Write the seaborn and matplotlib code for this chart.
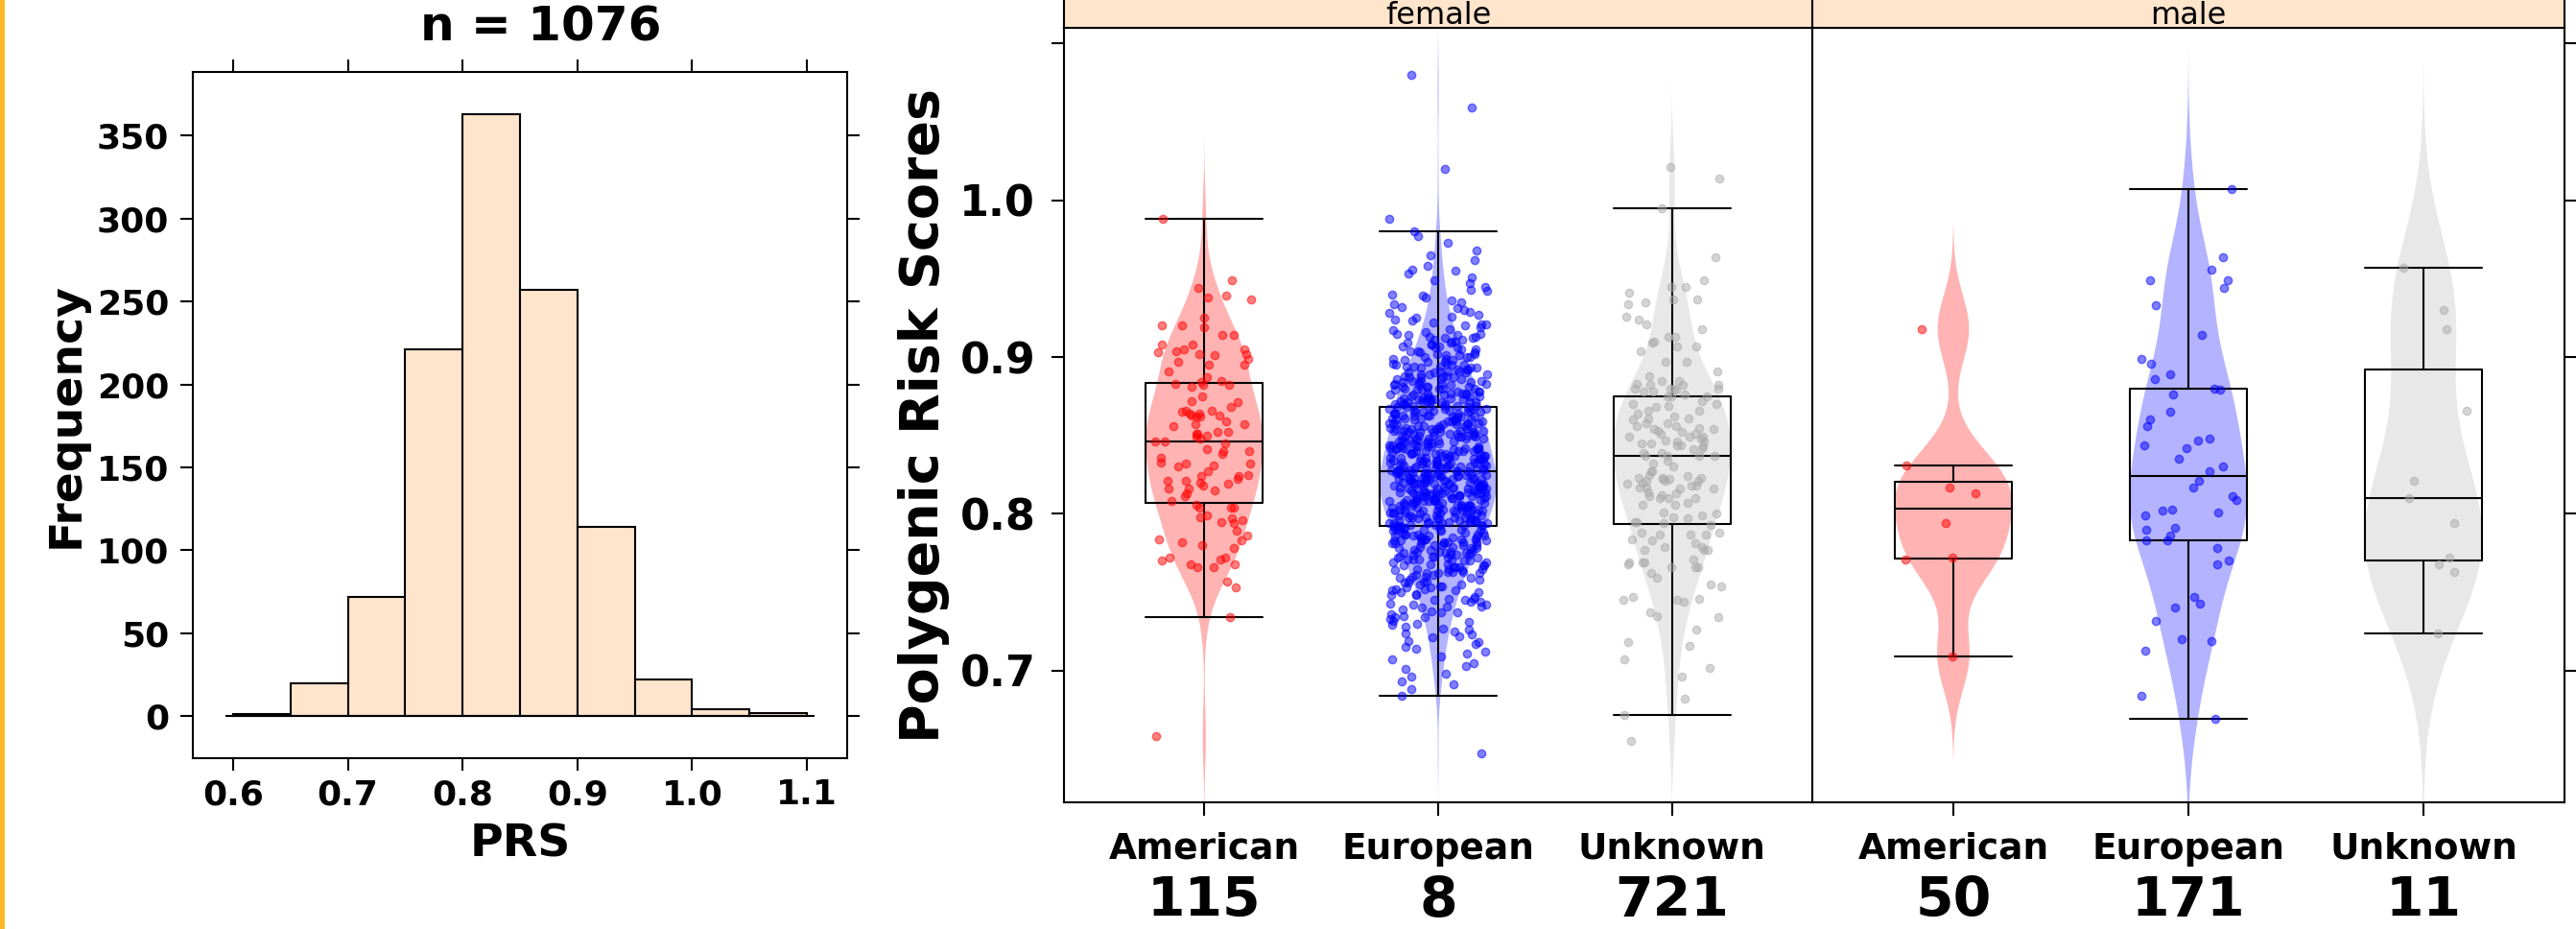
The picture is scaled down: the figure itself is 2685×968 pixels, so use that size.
import numpy as np
import pandas as pd
import matplotlib
matplotlib.use("Agg")
import matplotlib.pyplot as plt
import matplotlib.transforms as mtransforms
from matplotlib.patches import Rectangle
import seaborn as sns

# ---------------- data ----------------
hist_bin_edges = [0.60, 0.65, 0.70, 0.75, 0.80, 0.85, 0.90, 0.95, 1.00, 1.05, 1.10]
hist_counts = [1, 20, 72, 221, 363, 257, 114, 22, 4, 2]
hist_title = "n = 1076"

ancestries = ["American", "European", "Unknown"]
sexes = ["female", "male"]
female_count_labels = ["115", "8", "721"]
male_count_labels = ["50", "171", "11"]

prs_female_american = [
    0.988, 0.949, 0.944, 0.939, 0.937, 0.938, 0.925, 0.920, 0.920, 0.919,
    0.914, 0.914, 0.908, 0.908, 0.905, 0.905, 0.904, 0.902, 0.902, 0.903,
    0.901, 0.899, 0.897, 0.895, 0.895, 0.891, 0.887, 0.882, 0.885, 0.884,
    0.883, 0.882, 0.881, 0.875, 0.872, 0.871, 0.868, 0.866, 0.866, 0.865,
    0.864, 0.864, 0.863, 0.863, 0.862, 0.859, 0.857, 0.857, 0.856, 0.852,
    0.851, 0.851, 0.852, 0.850, 0.849, 0.846, 0.846, 0.845, 0.841, 0.840,
    0.840, 0.838, 0.833, 0.832, 0.831, 0.830, 0.832, 0.825, 0.824, 0.824,
    0.822, 0.821, 0.821, 0.820, 0.819, 0.818, 0.816, 0.816, 0.813, 0.811,
    0.808, 0.806, 0.804, 0.804, 0.804, 0.799, 0.798, 0.797, 0.796, 0.795,
    0.794, 0.786, 0.784, 0.783, 0.782, 0.780, 0.778, 0.772, 0.772, 0.771,
    0.770, 0.768, 0.768, 0.766, 0.766, 0.757, 0.753, 0.734, 0.658,
    0.862, 0.848, 0.836, 0.827, 0.815, 0.789,
]

prs_female_european = [
    0.647,
    0.684, 0.688,
    0.691, 0.693, 0.696, 0.698,
    0.701, 0.703, 0.705, 0.707, 0.709,
    0.711, 0.712, 0.714, 0.715, 0.717, 0.718, 0.719,
    0.721, 0.722, 0.723, 0.724, 0.725, 0.726, 0.727, 0.728, 0.729,
    0.730, 0.731, 0.732, 0.733, 0.734, 0.734, 0.735, 0.736, 0.737, 0.737, 0.738, 0.739,
    0.740, 0.741, 0.741, 0.742, 0.742, 0.743, 0.744, 0.744, 0.745, 0.745, 0.746, 0.746,
    0.747, 0.748, 0.748, 0.749,
    0.750, 0.750, 0.751, 0.751, 0.752, 0.752, 0.753, 0.753, 0.754, 0.754, 0.755, 0.755,
    0.756, 0.756, 0.757, 0.757, 0.758, 0.758, 0.759, 0.759,
    0.760, 0.760, 0.761, 0.761, 0.762, 0.762, 0.762, 0.763, 0.763, 0.763, 0.764, 0.764,
    0.765, 0.765, 0.765, 0.766, 0.766, 0.766, 0.767, 0.767, 0.767, 0.768, 0.768, 0.769, 0.769,
    0.770, 0.770, 0.770, 0.771, 0.771, 0.771, 0.772, 0.772, 0.772, 0.773, 0.773, 0.773,
    0.774, 0.774, 0.774, 0.774, 0.775, 0.775, 0.775, 0.775, 0.776, 0.776, 0.776, 0.777,
    0.777, 0.777, 0.778, 0.778, 0.778, 0.779, 0.779,
    0.780, 0.780, 0.780, 0.780, 0.781, 0.781, 0.781, 0.781, 0.782, 0.782, 0.782, 0.782,
    0.783, 0.783, 0.783, 0.783, 0.784, 0.784, 0.784, 0.784, 0.785, 0.785, 0.785, 0.785,
    0.786, 0.786, 0.786, 0.786, 0.787, 0.787, 0.787, 0.787, 0.788, 0.788, 0.788, 0.789,
    0.789, 0.789,
    0.790, 0.790, 0.790, 0.790, 0.791, 0.791, 0.791, 0.791, 0.792, 0.792, 0.792, 0.792,
    0.792, 0.793, 0.793, 0.793, 0.793, 0.794, 0.794, 0.794, 0.794, 0.794, 0.795, 0.795,
    0.795, 0.795, 0.796, 0.796, 0.796, 0.796, 0.796, 0.797, 0.797, 0.797, 0.797, 0.798,
    0.798, 0.798, 0.798, 0.798, 0.799, 0.799, 0.799, 0.799,
    0.800, 0.800, 0.800, 0.800, 0.800, 0.801, 0.801, 0.801, 0.801, 0.801,
    0.802, 0.802, 0.802, 0.802, 0.802, 0.803, 0.803, 0.803, 0.803, 0.803,
    0.804, 0.804, 0.804, 0.804, 0.804, 0.805, 0.805, 0.805, 0.805, 0.805,
    0.806, 0.806, 0.806, 0.806, 0.806, 0.807, 0.807, 0.807, 0.807, 0.807,
    0.808, 0.808, 0.808, 0.808, 0.808, 0.809, 0.809, 0.809, 0.809, 0.809,
    0.810, 0.810, 0.810, 0.810, 0.810, 0.811, 0.811, 0.811, 0.811, 0.811,
    0.812, 0.812, 0.812, 0.812, 0.812, 0.812, 0.813, 0.813, 0.813, 0.813, 0.813,
    0.814, 0.814, 0.814, 0.814, 0.814, 0.814, 0.815, 0.815, 0.815, 0.815, 0.815,
    0.816, 0.816, 0.816, 0.816, 0.816, 0.816, 0.817, 0.817, 0.817, 0.817, 0.817,
    0.818, 0.818, 0.818, 0.818, 0.818, 0.818, 0.819, 0.819, 0.819, 0.819, 0.819,
    0.820, 0.820, 0.820, 0.820, 0.820, 0.820, 0.821, 0.821, 0.821, 0.821, 0.821,
    0.822, 0.822, 0.822, 0.822, 0.822, 0.822, 0.823, 0.823, 0.823, 0.823, 0.823,
    0.824, 0.824, 0.824, 0.824, 0.824, 0.824, 0.825, 0.825, 0.825, 0.825, 0.825,
    0.826, 0.826, 0.826, 0.826, 0.826, 0.826, 0.827, 0.827, 0.827, 0.827, 0.827,
    0.828, 0.828, 0.828, 0.828, 0.828, 0.828, 0.829, 0.829, 0.829, 0.829, 0.829,
    0.830, 0.830, 0.830, 0.830, 0.830, 0.831, 0.831, 0.831, 0.831, 0.831,
    0.832, 0.832, 0.832, 0.832, 0.832, 0.833, 0.833, 0.833, 0.833, 0.833,
    0.834, 0.834, 0.834, 0.834, 0.834, 0.835, 0.835, 0.835, 0.835, 0.835,
    0.836, 0.836, 0.836, 0.836, 0.836, 0.837, 0.837, 0.837, 0.837, 0.837,
    0.838, 0.838, 0.838, 0.838, 0.839, 0.839, 0.839, 0.839,
    0.840, 0.840, 0.840, 0.840, 0.840, 0.841, 0.841, 0.841, 0.841, 0.841,
    0.842, 0.842, 0.842, 0.842, 0.842, 0.843, 0.843, 0.843, 0.843, 0.843,
    0.844, 0.844, 0.844, 0.844, 0.845, 0.845, 0.845, 0.845, 0.846, 0.846, 0.846, 0.846,
    0.847, 0.847, 0.847, 0.847, 0.848, 0.848, 0.848, 0.848, 0.849, 0.849, 0.849, 0.849,
    0.850, 0.850, 0.850, 0.850, 0.850, 0.851, 0.851, 0.851, 0.851,
    0.852, 0.852, 0.852, 0.852, 0.852, 0.853, 0.853, 0.853, 0.853,
    0.854, 0.854, 0.854, 0.854, 0.854, 0.855, 0.855, 0.855, 0.855,
    0.856, 0.856, 0.856, 0.856, 0.857, 0.857, 0.857, 0.857,
    0.858, 0.858, 0.858, 0.858, 0.859, 0.859, 0.859, 0.859,
    0.860, 0.860, 0.860, 0.860, 0.861, 0.861, 0.861, 0.861, 0.862, 0.862, 0.862, 0.862,
    0.863, 0.863, 0.863, 0.863, 0.864, 0.864, 0.864, 0.864, 0.865, 0.865, 0.865, 0.865,
    0.866, 0.866, 0.866, 0.866, 0.867, 0.867, 0.867, 0.867, 0.868, 0.868, 0.868, 0.868,
    0.869, 0.869, 0.869, 0.869,
    0.870, 0.870, 0.870, 0.870, 0.871, 0.871, 0.871, 0.871, 0.872, 0.872, 0.872, 0.872,
    0.873, 0.873, 0.873, 0.873, 0.874, 0.874, 0.874, 0.874, 0.875, 0.875, 0.875, 0.875,
    0.876, 0.876, 0.876, 0.876, 0.877, 0.877, 0.877, 0.877, 0.878, 0.878, 0.878,
    0.879, 0.879, 0.879,
    0.880, 0.880, 0.880, 0.880, 0.881, 0.881, 0.881, 0.881, 0.882, 0.882, 0.882,
    0.883, 0.883, 0.883, 0.884, 0.884, 0.884, 0.885, 0.885, 0.885, 0.886, 0.886, 0.886,
    0.887, 0.887, 0.887, 0.888, 0.888, 0.888, 0.889, 0.889, 0.889,
    0.890, 0.890, 0.890, 0.891, 0.891, 0.891, 0.892, 0.892, 0.892, 0.893, 0.893, 0.893,
    0.894, 0.894, 0.894, 0.895, 0.895, 0.895, 0.896, 0.896, 0.897, 0.897, 0.898, 0.898,
    0.899, 0.899,
    0.900, 0.900, 0.900, 0.901, 0.901, 0.902, 0.902, 0.903, 0.903, 0.904, 0.904,
    0.905, 0.905, 0.906, 0.906, 0.907, 0.907, 0.908, 0.908, 0.909, 0.909,
    0.910, 0.910, 0.911, 0.911, 0.912, 0.912, 0.913, 0.913, 0.914, 0.914, 0.915, 0.915,
    0.916, 0.917, 0.918, 0.919,
    0.920, 0.921, 0.921, 0.922, 0.923, 0.924, 0.925, 0.926, 0.927, 0.928, 0.929,
    0.930, 0.931, 0.932, 0.934, 0.935, 0.936, 0.938, 0.939,
    0.940, 0.942, 0.943, 0.945, 0.947, 0.949,
    0.951, 0.953, 0.955, 0.956, 0.958,
    0.962, 0.965, 0.968,
    0.973, 0.977,
    0.980, 0.988,
    1.020, 1.059, 1.080,
]

prs_female_unknown = [
    1.021, 1.014, 0.995, 0.964, 0.949, 0.945, 0.945, 0.941, 0.937, 0.937,
    0.935, 0.934, 0.926, 0.924, 0.921, 0.918, 0.913, 0.913, 0.910, 0.909,
    0.907, 0.907, 0.904, 0.897, 0.897, 0.891, 0.888, 0.885, 0.885, 0.883,
    0.882, 0.882, 0.882, 0.880, 0.880, 0.880, 0.880, 0.879, 0.878, 0.878,
    0.876, 0.875, 0.875, 0.875, 0.872, 0.870, 0.870, 0.869, 0.868, 0.866,
    0.866, 0.864, 0.861, 0.861, 0.860, 0.858, 0.858, 0.856, 0.856, 0.855,
    0.854, 0.854, 0.853, 0.852, 0.851, 0.849, 0.849, 0.849, 0.848, 0.847,
    0.846, 0.846, 0.845, 0.845, 0.844, 0.844, 0.842, 0.841, 0.839, 0.839,
    0.837, 0.837, 0.837, 0.837, 0.834, 0.832, 0.830, 0.827, 0.825, 0.824,
    0.823, 0.823, 0.823, 0.822, 0.822, 0.821, 0.821, 0.821, 0.820, 0.819,
    0.818, 0.818, 0.817, 0.817, 0.816, 0.816, 0.814, 0.813, 0.811, 0.810,
    0.810, 0.810, 0.807, 0.806, 0.806, 0.801, 0.800, 0.799, 0.798, 0.797,
    0.795, 0.794, 0.793, 0.788, 0.788, 0.787, 0.787, 0.787, 0.784, 0.783,
    0.781, 0.779, 0.779, 0.777, 0.777, 0.777, 0.771, 0.769, 0.769, 0.769,
    0.768, 0.766, 0.766, 0.766, 0.762, 0.759, 0.755, 0.754, 0.747, 0.746,
    0.745, 0.745, 0.744, 0.737, 0.735, 0.734, 0.726, 0.718, 0.716, 0.707,
    0.702, 0.696, 0.682, 0.672, 0.655,
    0.862, 0.851, 0.843, 0.827, 0.812, 0.795,
]

prs_male_american = [0.918, 0.831, 0.817, 0.813, 0.794, 0.772, 0.771, 0.709]

prs_male_european = [
    1.007, 0.964, 0.956, 0.949, 0.949, 0.944, 0.933, 0.914, 0.899, 0.896,
    0.889, 0.886, 0.880, 0.879, 0.876, 0.865, 0.860, 0.856, 0.848, 0.847,
    0.844, 0.842, 0.835, 0.830, 0.827, 0.821, 0.817, 0.811, 0.809, 0.803,
    0.802, 0.801, 0.799, 0.791, 0.790, 0.786, 0.783, 0.783, 0.778, 0.770,
    0.768, 0.747, 0.743, 0.740, 0.732, 0.720, 0.719, 0.713, 0.684, 0.669,
]

prs_male_unknown = [0.957, 0.930, 0.918, 0.866, 0.821, 0.810, 0.794, 0.772, 0.768, 0.763, 0.724]

# ---------------- styling ----------------
point_colors = {"American": "#FF0000", "European": "#0000FF", "Unknown": "#ABABAB"}
violin_colors = {"American": "#FFB3B3", "European": "#B3B3FF", "Unknown": "#E8E8E8"}
hist_fill = "#FFE5CC"
strip_fill = "#FFE5CC"

sns.set_theme(style="ticks")
plt.rcParams["font.family"] = ["DejaVu Sans"]
plt.rcParams["font.weight"] = "bold"
plt.rcParams["axes.edgecolor"] = "black"
plt.rcParams["axes.linewidth"] = 1.5
plt.rcParams["text.color"] = "black"
plt.rcParams["axes.labelcolor"] = "black"
plt.rcParams["xtick.color"] = "black"
plt.rcParams["ytick.color"] = "black"
plt.rcParams["xtick.labelcolor"] = "black"
plt.rcParams["ytick.labelcolor"] = "black"

groups = {
    ("female", "American"): prs_female_american,
    ("female", "European"): prs_female_european,
    ("female", "Unknown"): prs_female_unknown,
    ("male", "American"): prs_male_american,
    ("male", "European"): prs_male_european,
    ("male", "Unknown"): prs_male_unknown,
}
rows = []
for (sex, anc), vals in groups.items():
    for v in vals:
        rows.append((sex, anc, v))
df = pd.DataFrame(rows, columns=["sex", "ancestry", "prs"])


def nrd0_factor(values):
    v = np.asarray(values, dtype=float)
    sd = v.std(ddof=1)
    q75, q25 = np.percentile(v, [75, 25])
    lo = min(sd, (q75 - q25) / 1.34)
    return 0.9 * lo * len(v) ** (-0.2) / sd


W, H = 2685, 968
fig = plt.figure(figsize=(W / 100, H / 100), dpi=100)
fig.patch.set_facecolor("white")

def fx(px):
    return px / W

def fy(py):
    return 1 - py / H

# left orange border
fig.patches.append(Rectangle((0, 0), fx(5), 1, transform=fig.transFigure,
                             facecolor="#FDB928", edgecolor="none", zorder=10))

# ---------------- histogram ----------------
axh = fig.add_axes([fx(201), fy(790), fx(883) - fx(201), fy(75) - fy(790)])
bin_mids = [(a + b) / 2 for a, b in zip(hist_bin_edges[:-1], hist_bin_edges[1:])]
sns.histplot(x=bin_mids, weights=hist_counts, bins=hist_bin_edges, color=hist_fill,
             edgecolor="black", linewidth=1.5, alpha=1, ax=axh)
axh.hlines(0, hist_bin_edges[0] - 0.007, hist_bin_edges[-1] + 0.007, color="black", lw=1.5, zorder=3)
axh.set_xlim(0.565, 1.135)
axh.set_ylim(-25.4, 388.4)
axh.set_xticks([0.6, 0.7, 0.8, 0.9, 1.0, 1.1])
axh.set_xticklabels(["0.6", "0.7", "0.8", "0.9", "1.0", "1.1"])
axh.set_yticks([0, 50, 100, 150, 200, 250, 300, 350])
axh.tick_params(axis="both", which="major", direction="out", length=9.4, width=1.5,
                labelsize=26, top=True, right=True, labeltop=False, labelright=False)
axh.tick_params(axis="x", pad=6)
axh.tick_params(axis="y", pad=8.5)
axh.set_xlabel("PRS", fontsize=34, fontweight="bold", labelpad=9)
axh.set_ylabel("Frequency", fontsize=34, fontweight="bold")
axh.yaxis.set_label_coords(-0.160, 0.5)
axh.text(0.532, 1.046, hist_title, transform=axh.transAxes, ha="center", va="baseline",
         fontsize=36, fontweight="bold")
for sp in axh.spines.values():
    sp.set_visible(True)
    sp.set_color("black")
    sp.set_linewidth(1.5)

# ---------------- violin panels ----------------
panel_px = {"female": (1109, 1889), "male": (1889, 2673)}
panel_top, panel_bottom = 29, 836
count_labels = {"female": female_count_labels, "male": male_count_labels}

for sex in sexes:
    x0, x1 = panel_px[sex]
    ax = fig.add_axes([fx(x0), fy(panel_bottom), fx(x1) - fx(x0), fy(panel_top) - fy(panel_bottom)])
    sub = df[df["sex"] == sex]
    np.random.seed(7 if sex == "female" else 11)
    for anc in ancestries:
        g = sub[sub["ancestry"] == anc]
        sns.violinplot(data=g, x="ancestry", y="prs", order=ancestries, ax=ax,
                       color=violin_colors[anc], inner=None, linewidth=0, width=0.5,
                       density_norm="width", cut=3, bw_method=nrd0_factor(g["prs"]),
                       gridsize=300, saturation=1)
    for coll in ax.collections:
        coll.set_edgecolor("none")
    for anc in ancestries:
        g = sub[sub["ancestry"] == anc]
        sns.stripplot(data=g, x="ancestry", y="prs", order=ancestries, ax=ax,
                      color=point_colors[anc], jitter=0.21, size=6, alpha=0.5,
                      linewidth=1.0, edgecolor=point_colors[anc])
    sns.boxplot(data=sub, x="ancestry", y="prs", order=ancestries, ax=ax, width=0.5,
                fill=False, color="black", linewidth=1.5, showfliers=False, whis=1.5,
                capwidths=0.5)

    ax.set_xlim(-0.6, 2.6)
    ax.set_ylim(0.616, 1.110)
    ax.set_xlabel("")
    ax.set_ylabel("")
    ax.set_xticks(range(len(ancestries)))
    ax.set_xticklabels(ancestries)
    ax.set_yticks([0.7, 0.8, 0.9, 1.0, 1.1])
    ax.tick_params(axis="x", direction="out", length=10, width=1.5, labelsize=27, pad=12,
                   top=False, bottom=True)
    if sex == "female":
        ax.set_yticklabels(["0.7", "0.8", "0.9", "1.0", ""])
        ax.tick_params(axis="y", direction="out", length=9.4, width=1.5, labelsize=32, pad=12,
                       left=True, right=False, labelleft=True, labelright=False)
        ax.set_ylabel("Polygenic Risk Scores", fontsize=40, fontweight="bold")
        ax.yaxis.set_label_coords(-0.152, 0.5)
    else:
        ax.tick_params(axis="y", direction="out", length=9.4, width=1.5,
                       left=False, right=True, labelleft=False, labelright=False)
    for sp in ax.spines.values():
        sp.set_visible(True)
        sp.set_color("black")
        sp.set_linewidth(1.5)

    # sample-size labels under the category names
    trans = mtransforms.blended_transform_factory(ax.transData, fig.transFigure)
    for i, lab in enumerate(count_labels[sex]):
        ax.text(i, fy(955), lab, transform=trans, ha="center", va="baseline",
                fontsize=41, fontweight="bold", clip_on=False)

    # strip
    sax = fig.add_axes([fx(x0), fy(panel_top), fx(x1) - fx(x0), 0.06])
    sax.set_facecolor(strip_fill)
    sax.set_xticks([])
    sax.set_yticks([])
    for sp in sax.spines.values():
        sp.set_color("black")
        sp.set_linewidth(1.5)
    fig.text((fx(x0) + fx(x1)) / 2, fy(25), sex, ha="center", va="baseline",
             fontsize=23, fontweight="normal", color="black")

fig.savefig("out.png", dpi=100, facecolor="white")
